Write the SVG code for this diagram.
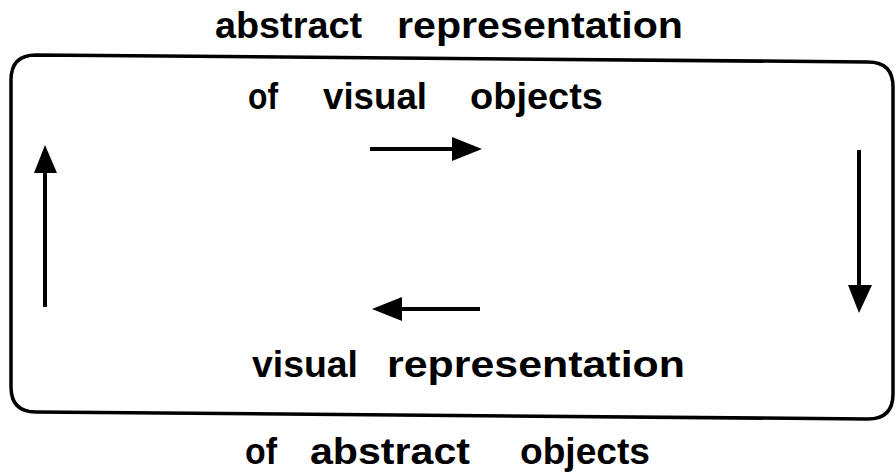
<svg xmlns="http://www.w3.org/2000/svg" width="896" height="474" viewBox="0 0 896 474">
<defs>
<style>
.t{font-family:"Liberation Sans",Arial,sans-serif;font-weight:bold;font-size:36px;fill:#000}
.ln{stroke:#000;stroke-width:4;fill:none}
.hd{fill:#000}
</style>
</defs>
<rect width="896" height="474" fill="#fff"/>
<g id="frame">
<path d="M36 55 L868 62 Q893 62 893 87 L893 394 Q893 419 868 419 L36 412 Q11 412 11 387 L11 80 Q11 55 36 55 Z" fill="none" stroke="#000" stroke-width="3.5"/>
</g>
<g id="top-label">
<text class="t" x="215" y="38" textLength="147" lengthAdjust="spacingAndGlyphs">abstract</text>
<text class="t" x="397" y="38" textLength="286" lengthAdjust="spacingAndGlyphs">representation</text>
</g>
<g id="inner-top-label">
<text class="t" x="248" y="109" textLength="30" lengthAdjust="spacingAndGlyphs">of</text>
<text class="t" x="323" y="109" textLength="104" lengthAdjust="spacingAndGlyphs">visual</text>
<text class="t" x="470" y="109" textLength="133" lengthAdjust="spacingAndGlyphs">objects</text>
</g>
<g id="inner-bottom-label">
<text class="t" x="252" y="377" textLength="106" lengthAdjust="spacingAndGlyphs">visual</text>
<text class="t" x="387" y="377" textLength="298" lengthAdjust="spacingAndGlyphs">representation</text>
</g>
<g id="bottom-label">
<text class="t" x="245" y="464" textLength="32" lengthAdjust="spacingAndGlyphs">of</text>
<text class="t" x="310" y="464" textLength="160" lengthAdjust="spacingAndGlyphs">abstract</text>
<text class="t" x="520" y="464" textLength="130" lengthAdjust="spacingAndGlyphs">objects</text>
</g>
<g id="connectors">
<line class="ln" x1="370" y1="149" x2="455" y2="149"/>
<polygon class="hd" points="452,137 482,149 452,161"/>
<line class="ln" x1="480" y1="309" x2="400" y2="309"/>
<polygon class="hd" points="402,297 372,309 402,321"/>
<line class="ln" x1="45" y1="307" x2="45" y2="170"/>
<polygon class="hd" points="34,173 45,145 57,173"/>
<line class="ln" x1="859" y1="150" x2="859" y2="288"/>
<polygon class="hd" points="848,285 859,313 872,285"/>
</g>
</svg>
